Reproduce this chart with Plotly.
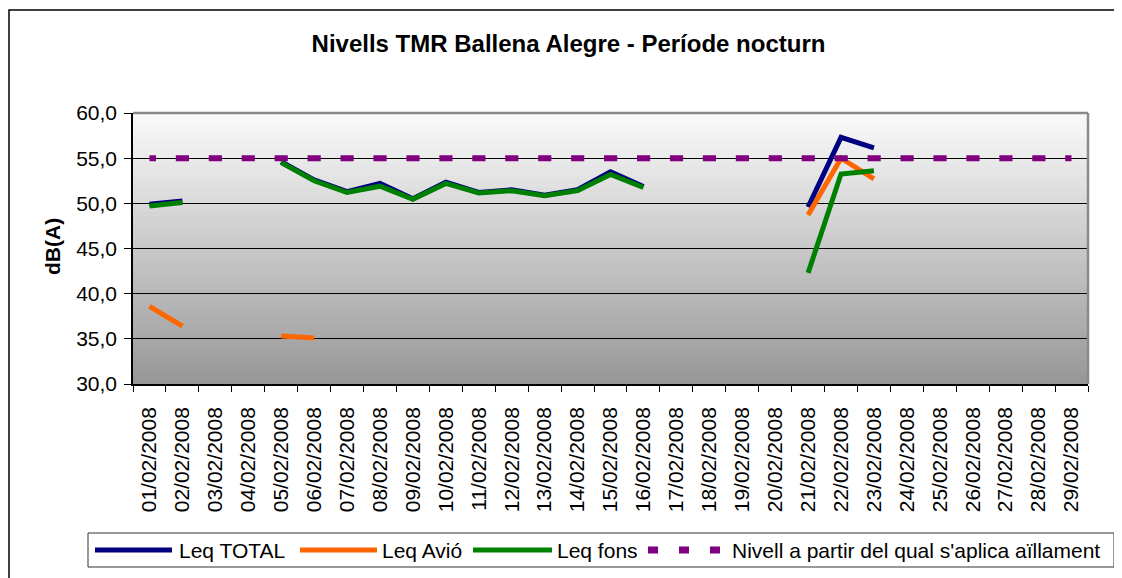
import plotly.graph_objects as go

# ---------------- data ----------------
dates = ["01/02/2008", "02/02/2008", "03/02/2008", "04/02/2008", "05/02/2008",
         "06/02/2008", "07/02/2008", "08/02/2008", "09/02/2008", "10/02/2008",
         "11/02/2008", "12/02/2008", "13/02/2008", "14/02/2008", "15/02/2008",
         "16/02/2008", "17/02/2008", "18/02/2008", "19/02/2008", "20/02/2008",
         "21/02/2008", "22/02/2008", "23/02/2008", "24/02/2008", "25/02/2008",
         "26/02/2008", "27/02/2008", "28/02/2008", "29/02/2008"]

leq_total = [49.9, 50.25, None, None, 54.6, 52.6, 51.3, 52.2, 50.5, 52.35,
             51.2, 51.5, 50.9, 51.5, 53.5, 51.85, None, None, None, None,
             49.6, 57.3, 56.15, None, None, None, None, None, None]
leq_avio = [38.6, 36.4, None, None, 35.3, 35.1, None, None, None, None,
            None, None, None, None, None, None, None, None, None, None,
            48.7, 55.0, 52.7, None, None, None, None, None, None]
leq_fons = [49.7, 50.1, None, None, 54.5, 52.5, 51.2, 51.9, 50.45, 52.2,
            51.15, 51.4, 50.85, 51.4, 53.2, 51.75, None, None, None, None,
            42.3, 53.25, 53.6, None, None, None, None, None, None]
nivell = [55.0] * len(dates)

series_names = ["Leq TOTAL", "Leq Avió", "Leq fons",
                "Nivell a partir del qual s'aplica aïllament"]
series_colors = ["#000080", "#FF6600", "#008000", "#800080"]

# ---------------- layout geometry ----------------
OFF = 8                      # page body margin
W, H = 1114, 570
ML, MT = 125, 105
PW, PH = 955, 271
MR = W - ML - PW
MB = H - MT - PH
FONT = "Liberation Sans, Arial, sans-serif"


def px(x):
    return (x - OFF - ML) / PW


def py(y):
    return (H - MB - (y - OFF)) / PH


cat_w = PW / len(dates)
half = cat_w * 0.2
dash_pattern = f"{half:.2f}px,{cat_w - 2 * half:.2f}px,{half:.2f}px,0px"

fig = go.Figure()
values = [leq_total, leq_avio, leq_fons]
for name, vals, col in zip(series_names[:3], values, series_colors[:3]):
    fig.add_trace(go.Scatter(x=dates, y=vals, mode="lines", name=name,
                             connectgaps=False, showlegend=False,
                             line=dict(color=col, width=5)))
fig.add_trace(go.Scatter(x=dates, y=nivell, mode="lines", name=series_names[3],
                         showlegend=False,
                         line=dict(color=series_colors[3], width=6, dash=dash_pattern)))

shapes = []
# gradient background of plot area (white top -> gray bottom)
N = 90
top_c, bot_c = 251, 150
for i in range(N):
    t = (i + 0.5) / N
    c = round(bot_c + (top_c - bot_c) * t)
    shapes.append(dict(type="rect", xref="paper", yref="paper", x0=0, x1=1,
                       y0=i / N, y1=(i + 1) / N + 0.002, layer="below",
                       line=dict(width=0), fillcolor=f"rgb({c},{c},{c})"))

shapes += [
    # outer chart border (left & top visible)
    dict(type="rect", xref="paper", yref="paper", x0=px(9), x1=px(1140), y0=py(600), y1=py(10),
         line=dict(color="black", width=1.5), fillcolor="rgba(0,0,0,0)", layer="below"),
    # plot-area border top and right (gray)
    dict(type="line", xref="paper", yref="paper", x0=0, x1=1, y0=1, y1=1,
         line=dict(color="#8a8a8a", width=2.5)),
    dict(type="line", xref="paper", yref="paper", x0=1, x1=1, y0=0, y1=1,
         line=dict(color="#8a8a8a", width=2.5)),
    # legend box
    dict(type="rect", xref="paper", yref="paper", x0=px(88), x1=px(1114), y0=py(567), y1=py(533),
         line=dict(color="#333333", width=1), fillcolor="white"),
]

annotations = [
    dict(text="<b>dB(A)</b>", xref="paper", yref="paper", x=px(52), y=py(247),
         textangle=-90, showarrow=False, xanchor="center", yanchor="middle",
         font=dict(family=FONT, size=21, color="black")),
]

# custom legend
leg_y = 550
leg_items = [(95, 172, 177), (300, 377, 380), (473, 552, 555), (648, 720, 730)]
for (x0, x1, tx), name, col in zip(leg_items, series_names, series_colors):
    if col == "#800080":
        shapes.append(dict(type="line", xref="paper", yref="paper", x0=px(x0), x1=px(x1),
                           y0=py(leg_y), y1=py(leg_y),
                           line=dict(color=col, width=7, dash="10px,21px")))
    else:
        shapes.append(dict(type="line", xref="paper", yref="paper", x0=px(x0), x1=px(x1),
                           y0=py(leg_y), y1=py(leg_y), line=dict(color=col, width=5)))
    annotations.append(dict(text=name, xref="paper", yref="paper", x=px(tx), y=py(leg_y),
                            showarrow=False, xanchor="left", yanchor="middle",
                            font=dict(family=FONT, size=21, color="black")))

fig.update_layout(
    width=W, height=H,
    margin=dict(l=ML, r=MR, t=MT, b=MB, autoexpand=False),
    paper_bgcolor="white",
    plot_bgcolor="#c9c9c9",
    separators=",.",
    font=dict(family=FONT, size=21, color="black"),
    title=dict(text="<b>Nivells TMR Ballena Alegre - Període nocturn</b>",
               x=(568.5 - OFF) / W, xref="container", xanchor="center",
               y=1 - (44 - OFF) / H, yref="container", yanchor="middle",
               font=dict(family=FONT, size=24, color="black")),
    shapes=shapes,
    annotations=annotations,
    showlegend=False,
)

fig.update_xaxes(type="category", range=[-0.5, len(dates) - 0.5], tickson="boundaries",
                 ticks="outside", ticklen=6, tickcolor="black", tickwidth=1,
                 showline=True, linecolor="black", linewidth=1.5, showgrid=False,
                 tickangle=-90, tickfont=dict(family=FONT, size=21, color="black"),
                 ticklabelstandoff=13)
fig.update_yaxes(range=[30, 60], tick0=30, dtick=5, tickformat=".1f",
                 ticks="outside", ticklen=7, tickcolor="black", tickwidth=1,
                 showline=True, linecolor="black", linewidth=1.5,
                 showgrid=True, gridcolor="black", gridwidth=1, zeroline=False,
                 tickfont=dict(family=FONT, size=21, color="black"),
                 ticklabelstandoff=3)

fig.write_html("out.html")
